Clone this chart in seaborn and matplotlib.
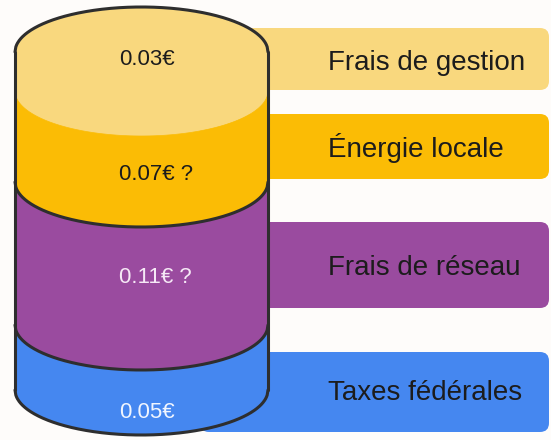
import numpy as np
import matplotlib
matplotlib.use("Agg")
import matplotlib.pyplot as plt
from matplotlib.patches import Polygon, FancyBboxPatch
from matplotlib.transforms import Affine2D
import seaborn as sns

# ---- data ----
categories = ["Frais de gestion", "Énergie locale", "Frais de réseau", "Taxes fédérales"]
values = [0.03, 0.07, 0.11, 0.05]
value_labels = ["0.03€", "0.07€ ?", "0.11€ ?", "0.05€"]

sns.set_theme(style="white")
plt.rcParams["font.family"] = ["Liberation Sans", "DejaVu Sans"]

colors = sns.color_palette(["#F9D87E", "#FBBC05", "#9A4B9F", "#4587F0"])
value_text_colors = ["#1c1c1c", "#1c1c1c", "#f6e9f6", "#f0f5ff"]
label_text_color = "#1c1c1c"
outline = "#2e2e2e"
bg = "#FEFCFA"

W, H = 551, 440
fig = plt.figure(figsize=(W / 100, H / 100), dpi=100)
fig.patch.set_facecolor(bg)
ax = fig.add_axes([0, 0, 1, 1])
ax.set_facecolor(bg)
ax.axis("off")

# euro scale on the y axis (downwards)
px_per_eur = 1300.0
top_px = 52.0
ax.set_xlim(0, W)
ax.set_ylim((H - top_px) / px_per_eur, -top_px / px_per_eur)

# pixel transform for layout elements (y from top)
pix = Affine2D().scale(1.0 / W, -1.0 / H).translate(0, 1) + fig.transFigure

# ---- label bars ----
bar_x0, bar_x1 = 200, 549
bar_rows = [(28, 90), (114, 179), (222, 308), (352, 432)]
label_baselines = [70, 157, 275, 400]
for i, (y0, y1) in enumerate(bar_rows):
    p = FancyBboxPatch((bar_x0, y0), bar_x1 - bar_x0, y1 - y0,
                       boxstyle="round,pad=0,rounding_size=9",
                       facecolor=colors[i], edgecolor="none",
                       transform=pix, zorder=1)
    ax.add_patch(p)
    p.set_transform(pix)
    fig.text(328, label_baselines[i], categories[i], transform=pix,
             fontsize=20, color=label_text_color, va="baseline", ha="left",
             zorder=5)

# ---- cylinder ----
cx, a = 141.5, 126.5
b = 45.0 / px_per_eur
cum = np.concatenate([[0.0], np.cumsum(values)])
xs = np.linspace(cx - a, cx + a, 300)
arc = b * np.sqrt(np.clip(1 - ((xs - cx) / a) ** 2, 0, None))

for i in range(len(values)):
    upper = cum[i] - arc if i == 0 else cum[i] + arc
    lower = cum[i + 1] + arc
    pts = np.vstack([np.column_stack([xs, upper]),
                     np.column_stack([xs[::-1], lower[::-1]])])
    ax.add_patch(Polygon(pts, closed=True, facecolor=colors[i],
                         edgecolor=colors[i], lw=0.5, zorder=2))

lw = 2.2
ax.plot(xs, cum[0] - arc, color=outline, lw=lw, zorder=3, solid_capstyle="round")
for k in [2, 3, 4]:
    ax.plot(xs, cum[k] + arc, color=outline, lw=lw, zorder=3, solid_capstyle="round")
ax.plot([cx - a, cx - a], [cum[0], cum[-1]], color=outline, lw=lw, zorder=3)
ax.plot([cx + a, cx + a], [cum[0], cum[-1]], color=outline, lw=lw, zorder=3)

# value labels
value_baselines = [65, 180, 283, 418]
for i, txt in enumerate(value_labels):
    fig.text(119, value_baselines[i], txt, transform=pix, fontsize=16,
             color=value_text_colors[i], va="baseline", ha="left", zorder=6)

fig.savefig("out.png", dpi=100, facecolor=bg)
